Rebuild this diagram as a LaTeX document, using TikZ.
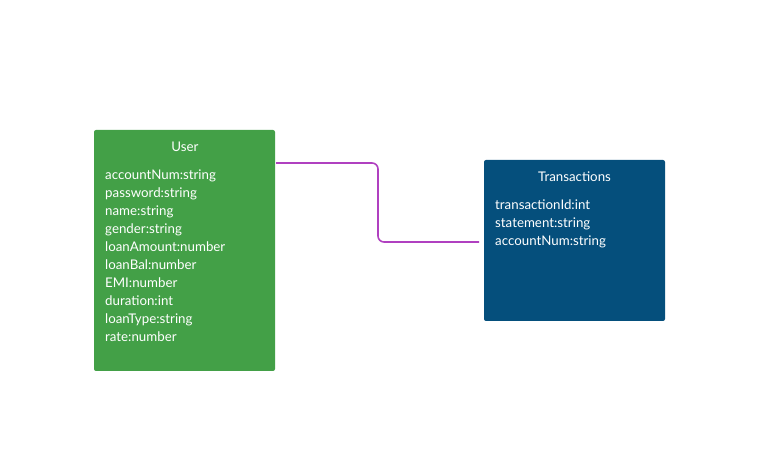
\documentclass[tikz,border=0pt]{standalone}
\usepackage{fontspec}
\setmainfont{Lato}
\definecolor{usergreen}{RGB}{67,160,71}
\definecolor{txblue}{RGB}{5,79,124}
\definecolor{linkpurple}{RGB}{176,64,192}
\begin{document}
\begin{tikzpicture}[x=1pt,y=1pt,
  classbox/.style={rounded corners=2pt,inner sep=0pt,outer sep=0pt},
  ttl/.style={text=white,font=\fontsize{13.3}{15}\selectfont,anchor=base,inner sep=0pt},
  attr/.style={text=white,font=\fontsize{13.3}{15}\selectfont,anchor=base west,inner sep=0pt},
  link/.style={draw=linkpurple,line width=1.6pt,rounded corners=6pt}]
\useasboundingbox (0,0) rectangle (773,465);
% User box
\fill[usergreen,classbox] (94,465-130) rectangle (275,465-371);
\node[ttl] (usertitle) at (185,465-151.5) {User};
\foreach \t [count=\i from 0] in {accountNum:string,password:string,name:string,gender:string,loanAmount:number,loanBal:number,EMI:number,duration:int,loanType:string,rate:number}
  \node[attr] (ua\i) at (105,465-179.5-18*\i) {\t};
% Transactions box
\fill[txblue,classbox] (484,465-160) rectangle (665,465-321);
\node[ttl] (txtitle) at (574.5,465-181.5) {Transactions};
\foreach \t [count=\i from 0] in {transactionId:int,statement:string,accountNum:string}
  \node[attr] (ta\i) at (495,465-209.5-18*\i) {\t};
% connector
\coordinate (userport) at (276,465-163);
\coordinate (txport) at (479,465-242);
\draw[link] (userport) -- (378,465-163) -- (378,465-242) -- (txport);
\end{tikzpicture}
\end{document}
